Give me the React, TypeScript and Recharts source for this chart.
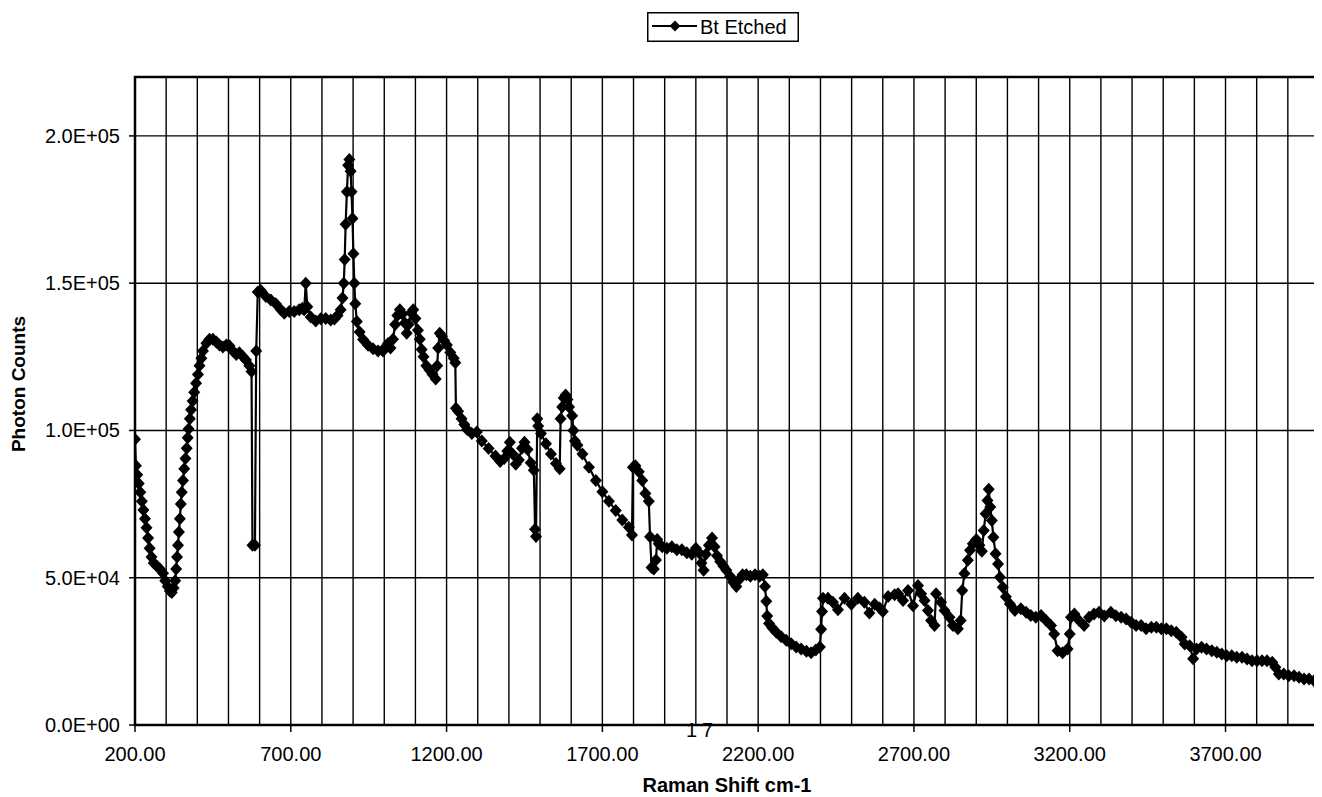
import React from 'react'
import { LineChart, Line, XAxis, YAxis, CartesianGrid, ReferenceArea } from 'recharts'

// Raman shift (cm-1)
const ramanShift = [
  200, 203, 207, 212, 217, 222, 227, 232, 237, 242,
  247, 253, 260, 270, 280, 290, 297, 305, 312, 318,
  324, 329, 332, 335, 338, 341, 344, 347, 350, 354,
  358, 362, 366, 369, 372, 376, 380, 385, 390, 396,
  402, 407, 413, 418, 429, 439, 450, 461, 471, 482,
  493, 503, 514, 525, 535, 546, 556, 567, 574, 577,
  585, 589, 594, 604, 620, 636, 652, 668, 679, 695,
  711, 727, 737, 743, 748, 753, 764, 780, 796, 812,
  828, 840, 850, 860, 866, 870, 873, 876, 880, 884,
  888, 892, 895, 898, 901, 904, 907, 912, 921, 932,
  948, 964, 980, 996, 1005, 1012, 1020, 1028, 1035, 1042,
  1050, 1058, 1066, 1072, 1078, 1086, 1093, 1100, 1108, 1114,
  1120, 1126, 1135, 1145, 1155, 1165, 1170, 1173, 1178, 1185,
  1192, 1201, 1212, 1223, 1228, 1230, 1237, 1248, 1257, 1266,
  1281, 1297, 1313, 1335, 1357, 1372, 1385, 1395, 1403, 1412,
  1422, 1432, 1442, 1450, 1460, 1470, 1480, 1484, 1487, 1491,
  1494, 1503, 1519, 1535, 1551, 1563, 1566, 1571, 1576, 1582,
  1588, 1593, 1603, 1607, 1612, 1620, 1636, 1657, 1679, 1700,
  1721, 1743, 1764, 1785, 1795, 1798, 1806, 1817, 1828, 1838,
  1849, 1853, 1858, 1865, 1872, 1876, 1881, 1892, 1907, 1923,
  1939, 1955, 1971, 1987, 2000, 2010, 2018, 2025, 2032, 2042,
  2052, 2060, 2068, 2078, 2088, 2098, 2110, 2120, 2130, 2140,
  2150, 2162, 2175, 2190, 2205, 2215, 2222, 2226, 2229, 2235,
  2245, 2258, 2274, 2290, 2306, 2322, 2338, 2355, 2370, 2385,
  2398, 2402, 2405, 2408, 2424, 2440, 2456, 2477, 2499, 2520,
  2541, 2557, 2574, 2590, 2600, 2617, 2638, 2649, 2665, 2681,
  2697, 2713, 2723, 2734, 2745, 2755, 2766, 2771, 2787, 2798,
  2814, 2825, 2841, 2850, 2855, 2862, 2873, 2880, 2889, 2900,
  2910, 2918, 2924, 2930, 2936, 2940, 2945, 2950, 2955, 2962,
  2970, 2976, 2985, 2995, 3008, 3024, 3043, 3060, 3075, 3091,
  3108, 3124, 3140, 3150, 3161, 3177, 3193, 3200, 3204, 3215,
  3230, 3246, 3262, 3278, 3294, 3311, 3332, 3348, 3365, 3381,
  3397, 3413, 3429, 3445, 3462, 3478, 3494, 3510, 3526, 3542,
  3559, 3569, 3585, 3596, 3607, 3623, 3639, 3656, 3672, 3688,
  3704, 3720, 3736, 3753, 3769, 3785, 3801, 3817, 3833, 3850,
  3860, 3871, 3887, 3903, 3920, 3936, 3952, 3968, 3984, 3998,
]

// photon counts, same order as ramanShift
const photonCounts = [
  97000, 88000, 85000, 82000, 79000, 76000, 73000, 70000, 67000, 63500,
  60000, 57000, 55000, 54000, 53000, 51500, 49000, 47000, 45500, 45000,
  46500, 49000, 53000, 57000, 61000, 65500, 70000, 75000, 79000, 83000,
  87000, 90500, 94000, 97500, 100500, 104000, 107000, 110000, 113000, 116000,
  119000, 122000, 124500, 127000, 129600, 131000, 131000, 130000, 129000, 128300,
  129000, 128800, 127000, 125800, 126400, 125100, 123900, 122000, 120000, 61000,
  61000, 127000, 147000, 147500, 145500, 144300, 143000, 141000, 139800, 140400,
  140400, 141000, 141500, 141000, 150000, 142000, 138500, 137200, 137900, 138000,
  137500, 137800, 139000, 141000, 145000, 150000, 158000, 170000, 181000, 190000,
  192000, 188000, 181000, 172000, 160000, 150000, 143000, 137000, 133400, 130900,
  128900, 127700, 127000, 127000, 128500, 129500, 128000, 131000, 136000, 139000,
  141000, 139500, 136500, 133000, 136000, 140000, 141000, 138000, 134000, 131000,
  127500, 125000, 122000, 120500, 119000, 117500, 122000, 128000, 133000, 132000,
  130500, 129000, 126500, 124500, 123000, 107500, 106500, 104000, 102000, 100300,
  99000, 99500, 96400, 93900, 91300, 89500, 90500, 93000, 96000, 92000,
  88500, 90000, 94000, 96000, 93500, 89000, 86500, 66500, 64000, 104000,
  101500, 99000, 95500, 92000, 88800, 87000, 104000, 108000, 111000, 112000,
  110500, 108000, 105000, 100000, 96400, 95000, 92000, 87500, 83000, 79200,
  76000, 72800, 69600, 67100, 64500, 87500, 88000, 86000, 83000, 78600,
  76000, 63900, 53500, 53000, 56000, 63000, 61500, 60500, 60000, 60500,
  59500, 59500, 58500, 58000, 60000, 58500, 55000, 52500, 58000, 61000,
  63500, 60500, 57500, 55500, 54000, 52500, 50500, 48500, 47000, 49500,
  51000, 51000, 50500, 51000, 50500, 51000, 47000, 42000, 37000, 34500,
  33000, 31500, 30000, 28800, 27600, 26500, 25800, 25000, 24500, 25500,
  26500, 32500, 38500, 43000, 43000, 41700, 39100, 43000, 41000, 43000,
  41700, 38000, 41000, 39700, 38500, 43600, 44200, 44600, 42300, 45700,
  40500, 47400, 44600, 42300, 38900, 35500, 33800, 44600, 41700, 38900,
  36600, 33800, 32700, 35500, 45700, 51400, 55900, 59300, 61500, 63000,
  61000, 59000, 66000, 71700, 76200, 80000, 74000, 69400, 63700, 58100,
  54700, 50200, 46800, 43500, 41100, 38900, 39500, 38300, 37200, 36600,
  37200, 35500, 33800, 30900, 25200, 24500, 25800, 30900, 36600, 37700,
  35500, 33800, 36600, 37700, 38300, 37000, 38300, 37100, 36600, 36000,
  34900, 33800, 33800, 32700, 33200, 33200, 32700, 32700, 32000, 31500,
  29800, 27500, 26900, 22500, 25800, 26400, 25800, 25200, 24700, 24100,
  23500, 23500, 23000, 23000, 22400, 21800, 21800, 21800, 21800, 21300,
  19600, 17300, 17300, 16700, 16700, 16200, 15600, 15600, 15000, 15000,
]

// one vertical grid line every 100 cm-1, labels every 500
const xGridTicks = [
  200, 300, 400, 500, 600, 700, 800, 900, 1000, 1100,
  1200, 1300, 1400, 1500, 1600, 1700, 1800, 1900, 2000, 2100,
  2200, 2300, 2400, 2500, 2600, 2700, 2800, 2900, 3000, 3100,
  3200, 3300, 3400, 3500, 3600, 3700, 3800, 3900, 4000,
]
const xLabelTicks = [200, 700, 1200, 1700, 2200, 2700, 3200, 3700]
const yTicks = [0, 50000, 100000, 150000, 200000]

const data = ramanShift.map((shift, i) => ({ shift, counts: photonCounts[i] }))

const FONT = '"Liberation Sans", Arial, Helvetica, sans-serif'

// Excel style 2.0E+05
const sci = (v: number) => {
  const [m, e] = v.toExponential(1).split('e')
  return `${m}E${e[0]}${e.slice(1).padStart(2, '0')}`
}

const diamondPath = (cx: number, cy: number, w = 6, h = 6.5) =>
  `M${cx},${cy - h}L${cx + w},${cy}L${cx},${cy + h}L${cx - w},${cy}Z`

const renderDiamond = (p: any) => {
  if (p.cx == null || p.cy == null) return <g key={p.index} />
  return <path key={p.index} d={diamondPath(p.cx, p.cy)} fill='#000' stroke='none' />
}

const XTick = (props: any) => {
  const { x, y, payload } = props
  if (!xLabelTicks.includes(payload.value)) return <g />
  return (
    <g>
      <line x1={x} x2={x} y1={y} y2={y + 7} stroke='#000' strokeWidth={1.5} />
      <text x={x} y={y + 36} textAnchor='middle' fontSize={20} fontFamily={FONT} fill='#000'>
        {payload.value.toFixed(2)}
      </text>
    </g>
  )
}

const YTick = (props: any) => {
  const { x, y, payload } = props
  return (
    <g>
      <line x1={x - 6} x2={x} y1={y} y2={y} stroke='#000' strokeWidth={1.5} />
      <text x={x - 15} y={y + 7} textAnchor='end' fontSize={20} fontFamily={FONT} fill='#000'>
        {sci(payload.value)}
      </text>
    </g>
  )
}

const Legend = () => (
  <div style={{ position: 'absolute', left: 639, top: 4, width: 152, height: 30, zIndex: 2 }}>
    <svg width={152} height={30}>
      <rect x={0.75} y={0.75} width={150.5} height={28.5} fill='#fff' stroke='#000' strokeWidth={1.5} />
      <line x1={5} x2={50} y1={14} y2={14} stroke='#000' strokeWidth={2} />
      <path d={diamondPath(28, 14, 5.5, 5.5)} fill='#000' />
      <text x={53} y={21.5} fontSize={20} fontFamily={FONT} fill='#000'>Bt Etched</text>
    </svg>
  </div>
)

export default function App() {
  return (
    <div style={{ position: 'relative', width: 1314, height: 789, fontFamily: FONT }}>
      {/* page number peeking out below the axis */}
      <div style={{ position: 'absolute', left: 678, top: 712, fontSize: 20, lineHeight: 1, letterSpacing: 5 }}>17</div>
      <Legend />
      <LineChart
        width={1314}
        height={789}
        data={data}
        margin={{ top: 69, right: 3, bottom: 0, left: 0 }}>
        <CartesianGrid stroke='#000' strokeWidth={1.4} />
        <XAxis
          type='number'
          dataKey='shift'
          domain={[200, 4000]}
          ticks={xGridTicks}
          interval={0}
          allowDataOverflow
          height={72}
          axisLine={false}
          tickLine={false}
          tickSize={0}
          tickMargin={0}
          tick={<XTick />}
          label={{
            content: (p: any) => {
              const vb = p.viewBox
              return (
                <text x={vb.x + vb.width / 2} y={vb.y + 67} textAnchor='middle'
                  fontSize={20} fontWeight='bold' fontFamily={FONT} fill='#000'>
                  Raman Shift cm-1
                </text>
              )
            },
          }}
        />
        <YAxis
          type='number'
          domain={[0, 220000]}
          ticks={yTicks}
          interval={0}
          allowDataOverflow
          width={127}
          axisLine={false}
          tickLine={false}
          tickSize={0}
          tickMargin={0}
          tick={<YTick />}
          label={{
            content: () => (
              <text x={17} y={376} transform='rotate(-90, 17, 376)' textAnchor='middle'
                fontSize={19} fontWeight='bold' fontFamily={FONT} fill='#000'>
                Photon Counts
              </text>
            ),
          }}
        />
        <ReferenceArea x1={200} x2={4000} y1={0} y2={220000} fill='none' fillOpacity={0}
          stroke='#000' strokeWidth={2.5} />
        <Line
          type='linear'
          dataKey='counts'
          stroke='#000'
          strokeWidth={2.2}
          dot={renderDiamond}
          activeDot={false}
          isAnimationActive={false}
        />
      </LineChart>
    </div>
  )
}
